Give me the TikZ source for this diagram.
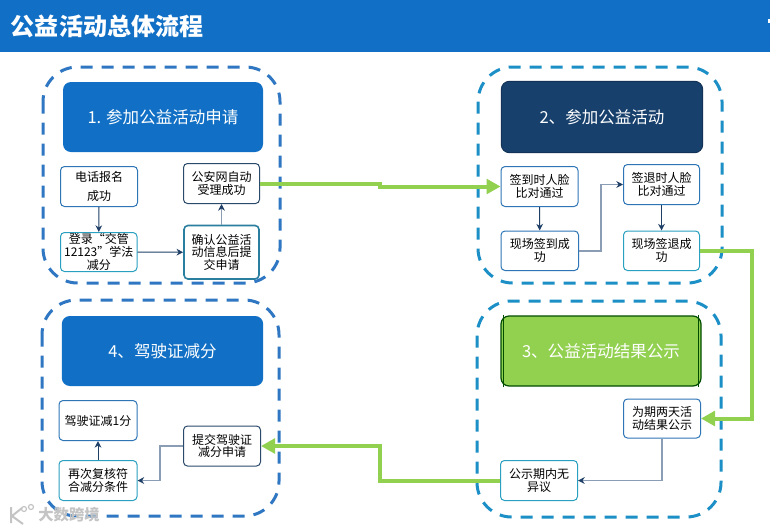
\documentclass[tikz,border=0pt]{standalone}
\usepackage{fontspec}
\setmainfont{Noto Sans CJK SC}
\usetikzlibrary{arrows.meta}
\definecolor{barblue}{HTML}{1170C5}
\definecolor{frameA}{HTML}{2F77C2}
\definecolor{frameB}{HTML}{1B8FC6}
\definecolor{navy}{HTML}{17406D}
\definecolor{leaf}{HTML}{92D050}
\definecolor{linkc}{HTML}{1F3F66}
\definecolor{softc}{HTML}{8A9DB5}
\definecolor{edgeA}{HTML}{2E75B6}
\definecolor{edgeB}{HTML}{2AA0C0}
\definecolor{edgeC}{HTML}{2B4A6B}
\definecolor{wm}{HTML}{C4C4C4}
\tikzset{
 x=0.75pt,y=-0.75pt,
 framebox/.style={draw=#1,line width=2.25pt,rounded corners=26pt,dash pattern=on 9pt off 6.75pt},
 headbox/.style={anchor=center,inner sep=0pt,rounded corners=6pt,text=white,font=\fontsize{12.4}{14}\selectfont},
 stepbox/.style={draw=edgeA,fill=white,line width=0.75pt,rounded corners=3pt,inner sep=0pt,align=center,text=black,font=\fontsize{9}{9.6}\selectfont},
 link/.style={draw=linkc,line width=0.75pt,-{Stealth[length=5pt,width=5pt]}},
 softlink/.style={draw=softc,line width=1.2pt,-{Stealth[length=5pt,width=5pt,color=linkc]}},
 greenlink/.style={draw=leaf,line width=3pt,-{Triangle[length=10.5pt,width=11pt]}},
}
\newcommand{\stepnode}[7][]{%
 \node[stepbox,#1,minimum width=#4*0.75pt-#2*0.75pt,minimum height=#5*0.75pt-#3*0.75pt] (#6) at ({(#2+#4)/2},{(#3+#5)/2}) {#7};}
\begin{document}
\begin{tikzpicture}
\useasboundingbox (0,0) rectangle (770,529);
\fill[white] (0,0) rectangle (770,529);
\fill[barblue] (0,0) rectangle (770,52);
\node[anchor=center,text=white,inner sep=0pt,font=\fontsize{18}{22}\selectfont\bfseries] (title) at (107,26) {公益活动总体流程};
\fill[white] (768,19) rectangle (770,23);
% frames
\draw[framebox=frameA] (43,67) rectangle (280,283);
\draw[framebox=frameB] (478,67) rectangle (722,283);
\draw[framebox=frameB] (477,301) rectangle (721,517);
\draw[framebox=frameA] (42,300) rectangle (279,516);
% heads
\node[headbox,fill=barblue,minimum width=150pt,minimum height=52.5pt] (h1) at (163,117) {1. 参加公益活动申请};
\node[headbox,fill=navy,draw=navy!80!black,line width=0.75pt,minimum width=151pt,minimum height=53.5pt] (h2) at (602,117) {2、参加公益活动};
\node[headbox,fill=leaf,draw=black!70!green,line width=0.9pt,minimum width=150pt,minimum height=52.5pt] (h3) at (601,351) {3、公益活动结果公示};
\node[headbox,fill=barblue,minimum width=151pt,minimum height=52.5pt] (h4) at (162.5,351) {4、驾驶证减分};
\draw[black!70!green,line width=0.5pt] ([xshift=2.2pt]h3.north west) -- ([xshift=2.2pt]h3.south west);
\draw[black!70!green,line width=0.5pt] ([xshift=-2.2pt]h3.north east) -- ([xshift=-2.2pt]h3.south east);
% step boxes
\stepnode[font=\fontsize{9}{14.5}\selectfont]{60.5}{166.5}{137.5}{206.5}{a1}{电话报名\\成功}
\stepnode[draw=edgeB]{60.5}{232.5}{137}{271.5}{a2}{登录“交管\\12123”学法\\减分}
\stepnode[draw=edgeB!60!edgeC,line width=1.2pt]{184}{225.5}{259}{279}{a3}{确认公益活\\动信息后提\\交申请}
\stepnode[draw=edgeC]{183.5}{163.5}{259.5}{203.5}{a4}{公安网自动\\受理成功}
\stepnode{501}{166.5}{578}{206.5}{b1}{签到时人脸\\比对通过}
\stepnode{501}{231}{578.5}{270.5}{b2}{现场签到成\\功}
\stepnode{623.5}{164.5}{699.5}{204.5}{b3}{签退时人脸\\比对通过}
\stepnode[draw=edgeB]{623.5}{231}{699.5}{270.5}{b4}{现场签退成\\功}
\stepnode{623.5}{399}{700.5}{438}{c1}{为期两天活\\动结果公示}
\stepnode[draw=edgeB]{500.5}{460.5}{577.5}{500.5}{c2}{公示期内无\\异议}
\stepnode[draw=edgeC]{183.5}{426}{260.5}{466}{d1}{提交驾驶证\\减分申请}
\stepnode[draw=edgeB]{59}{460.5}{137}{500.5}{d2}{再次复核符\\合减分条件}
\stepnode[draw=edgeA]{59}{400.5}{137}{440.5}{d3}{驾驶证减1分}
% thin connectors
\draw[link] (a1.south) -- (a2.north);
\draw[link] (a2.east) -- (a3.west);
\draw[softlink] (a3.north) -- (a4.south);
\draw[link] (b1.south) -- (b2.north);
\coordinate (b23) at (601,0);
\draw[softlink] (b2.east) -- (b23 |- b2.east) -- (b23 |- b3.west) -- (b3.west);
\draw[link] (b3.south) -- (b4.north);
\draw[softlink] (c1.south) |- (c2.east);
\coordinate (d12) at (160,0);
\draw[softlink] (d1.west) -- (d12 |- d1.west) -- (d12 |- d2.east) -- (d2.east);
\draw[link] (d2.north) -- (d3.south);
% green connectors
\coordinate (g1) at (380,0);
\draw[greenlink] (a4.east) -- (g1 |- a4.east) -- (g1 |- b1.west) -- (b1.west);
\coordinate (g2) at (752,0);
\draw[greenlink] (b4.east) -- (g2 |- b4.east) -- (g2 |- c1.east) -- (c1.east);
\draw[greenlink] (c2.west) -- (g1 |- c2.west) -- (g1 |- d1.east) -- (d1.east);
% watermark
\node[text=wm,inner sep=0pt,font=\fontsize{11.5}{12}\selectfont\bfseries] (wmtext) at (69,515) {大数跨境};
\draw[wm,line width=1.5pt] (11,507) -- (11,523) (22,508) -- (12,516) -- (23,524);
\draw[wm,line width=0.9pt] (24,509) circle (2.5) (31,507) circle (2.5);
\end{tikzpicture}
\end{document}
